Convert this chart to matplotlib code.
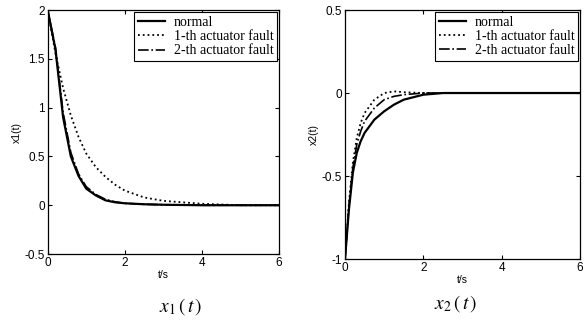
import matplotlib.pyplot as plt
import numpy as np

# time samples
t1 = [0, 0.2, 0.4, 0.6, 0.8, 1.0, 1.25, 1.5, 1.75, 2, 2.5, 3, 4, 5, 6]
x1_normal = [2, 1.6, 0.9, 0.5, 0.3, 0.17, 0.1, 0.05, 0.03, 0.02, 0.01, 0.005, 0, 0, 0]
x1_fault1 = [2, 1.56, 1.2, 0.92, 0.7, 0.53, 0.39, 0.29, 0.21, 0.15, 0.08, 0.045, 0.015, 0, 0]
x1_fault2 = [2, 1.62, 0.95, 0.54, 0.32, 0.19, 0.11, 0.06, 0.035, 0.02, 0.01, 0.005, 0, 0, 0]

t2 = [0, 0.1, 0.2, 0.3, 0.4, 0.5, 0.75, 1.0, 1.25, 1.5, 2, 2.5, 6]
x2_normal = [-1, -0.7, -0.48, -0.36, -0.29, -0.24, -0.16, -0.11, -0.07, -0.04, -0.01, 0, 0]
x2_fault1 = [-1, -0.66, -0.42, -0.27, -0.18, -0.12, -0.04, 0.0, 0.01, 0.005, 0, 0, 0]
x2_fault2 = [-1, -0.68, -0.45, -0.31, -0.23, -0.17, -0.09, -0.04, -0.02, -0.01, 0, 0, 0]

labels = ['normal', '1-th actuator fault', '2-th actuator fault']
xticks = [0, 2, 4, 6]

plt.rcParams['font.family'] = 'Liberation Sans'
plt.rcParams['mathtext.fontset'] = 'stix'

fig = plt.figure(figsize=(5.84, 3.23), dpi=100)
ax1 = fig.add_axes([0.0817, 0.2136, 0.396, 0.755])
ax2 = fig.add_axes([0.5908, 0.198, 0.4024, 0.771])


def draw(ax, t, normal, f1, f2, ylim, yticks, yticklabels, ylabel):
    ax.plot(t, normal, 'k-', lw=1.6, label=labels[0])
    ax.plot(t, f1, 'k:', lw=1.3, label=labels[1])
    ax.plot(t, f2, 'k-.', lw=1.2, label=labels[2])
    ax.set_xlim(0, 6)
    ax.set_ylim(*ylim)
    ax.set_xticks(xticks)
    ax.set_xticklabels([str(v) for v in xticks])
    ax.set_yticks(yticks)
    ax.set_yticklabels(yticklabels)
    ax.tick_params(direction='in', top=True, right=True, labelsize=8.5,
                   length=3, width=0.8, pad=2)
    for s in ax.spines.values():
        s.set_linewidth(0.9)
    ax.set_xlabel('t/s', fontsize=7.5, labelpad=1)
    ax.set_ylabel(ylabel, fontsize=7.5, labelpad=2)
    leg = ax.legend(loc='upper right', frameon=True, fancybox=False,
                    handlelength=2.0, handletextpad=0.6, borderpad=0.25,
                    labelspacing=0.1, borderaxespad=0.15,
                    prop={'family': 'Liberation Serif', 'size': 10})
    leg.get_frame().set_edgecolor('black')
    leg.get_frame().set_linewidth(0.8)
    leg.get_frame().set_alpha(1)


draw(ax1, t1, x1_normal, x1_fault1, x1_fault2, (-0.5, 2),
     [-0.5, 0, 0.5, 1, 1.5, 2], ['-0.5', '0', '0.5', '1', '1.5', '2'], 'x1(t)')
draw(ax2, t2, x2_normal, x2_fault1, x2_fault2, (-1, 0.5),
     [-1, -0.5, 0, 0.5], ['-1', '-0.5', '0', '0.5'], 'x2(t)')

fig.text(0.31, 0.05, r'$x_1\,(\,t\,)$', fontsize=14, ha='center', va='center')
fig.text(0.78, 0.06, r'$x_2\,(\,t\,)$', fontsize=14, ha='center', va='center')

fig.savefig('out.png', dpi=100)
